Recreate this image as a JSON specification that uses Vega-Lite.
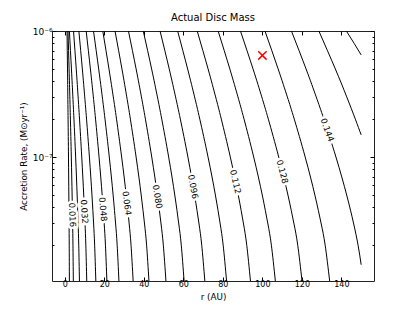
{
  "$schema": "https://vega.github.io/schema/vega-lite/v6.json",
  "width": 322,
  "height": 250,
  "autosize": "none",
  "padding": {"left": 52, "top": 31, "right": 41, "bottom": 32},
  "background": "white",
  "config": {
    "font": "DejaVu Sans",
    "view": {"stroke": "#222", "strokeWidth": 1},
    "axis": {"domain": false, "grid": false, "labelFont": "DejaVu Sans", "titleFont": "DejaVu Sans", "labelColor": "black", "titleColor": "black", "tickColor": "black", "labelFontSize": 8, "titleFontSize": 8.8, "titleFontWeight": "normal"}
  },
  "title": {"text": "Actual Disc Mass", "fontSize": 10, "fontWeight": "normal", "font": "DejaVu Sans", "offset": 4, "color": "black"},
  "datasets": {
    "lines": [
      {"level":0.008,"r":2.30,"mdot":1.04e-8},{"level":0.008,"r":2.22,"mdot":2e-8},{"level":0.008,"r":2.14,"mdot":3e-8},{"level":0.008,"r":2.02,"mdot":5e-8},{"level":0.008,"r":1.85,"mdot":1e-7},{"level":0.008,"r":1.64,"mdot":2e-7},{"level":0.008,"r":1.51,"mdot":3e-7},{"level":0.008,"r":1.35,"mdot":5e-7},{"level":0.008,"r":1.10,"mdot":1e-6},
      {"level":0.016,"r":4.30,"mdot":1.04e-8},{"level":0.016,"r":4.11,"mdot":2e-8},{"level":0.016,"r":3.94,"mdot":3e-8},{"level":0.016,"r":3.68,"mdot":5e-8},{"level":0.016,"r":3.28,"mdot":1e-7},{"level":0.016,"r":2.82,"mdot":2e-7},{"level":0.016,"r":2.53,"mdot":3e-7},{"level":0.016,"r":2.15,"mdot":5e-7},{"level":0.016,"r":1.60,"mdot":1e-6},
      {"level":0.024,"r":7.39,"mdot":1.04e-8},{"level":0.024,"r":7.04,"mdot":2e-8},{"level":0.024,"r":6.71,"mdot":3e-8},{"level":0.024,"r":6.23,"mdot":5e-8},{"level":0.024,"r":5.47,"mdot":1e-7},{"level":0.024,"r":4.61,"mdot":2e-7},{"level":0.024,"r":4.06,"mdot":3e-7},{"level":0.024,"r":3.34,"mdot":5e-7},{"level":0.024,"r":2.30,"mdot":1e-6},
      {"level":0.032,"r":11.09,"mdot":1.04e-8},{"level":0.032,"r":10.63,"mdot":2e-8},{"level":0.032,"r":10.20,"mdot":3e-8},{"level":0.032,"r":9.56,"mdot":5e-8},{"level":0.032,"r":8.56,"mdot":1e-7},{"level":0.032,"r":7.43,"mdot":2e-7},{"level":0.032,"r":6.72,"mdot":3e-7},{"level":0.032,"r":5.77,"mdot":5e-7},{"level":0.032,"r":4.40,"mdot":1e-6},
      {"level":0.040,"r":15.69,"mdot":1.04e-8},{"level":0.040,"r":15.09,"mdot":2e-8},{"level":0.040,"r":14.54,"mdot":3e-8},{"level":0.040,"r":13.73,"mdot":5e-8},{"level":0.040,"r":12.44,"mdot":1e-7},{"level":0.040,"r":10.99,"mdot":2e-7},{"level":0.040,"r":10.07,"mdot":3e-7},{"level":0.040,"r":8.86,"mdot":5e-7},{"level":0.040,"r":7.10,"mdot":1e-6},
      {"level":0.048,"r":21.29,"mdot":1.04e-8},{"level":0.048,"r":20.56,"mdot":2e-8},{"level":0.048,"r":19.89,"mdot":3e-8},{"level":0.048,"r":18.89,"mdot":5e-8},{"level":0.048,"r":17.32,"mdot":1e-7},{"level":0.048,"r":15.55,"mdot":2e-7},{"level":0.048,"r":14.43,"mdot":3e-7},{"level":0.048,"r":12.94,"mdot":5e-7},{"level":0.048,"r":10.80,"mdot":1e-6},
      {"level":0.056,"r":27.38,"mdot":1.04e-8},{"level":0.056,"r":26.49,"mdot":2e-8},{"level":0.056,"r":25.67,"mdot":3e-8},{"level":0.056,"r":24.44,"mdot":5e-8},{"level":0.056,"r":22.51,"mdot":1e-7},{"level":0.056,"r":20.33,"mdot":2e-7},{"level":0.056,"r":18.96,"mdot":3e-7},{"level":0.056,"r":17.13,"mdot":5e-7},{"level":0.056,"r":14.50,"mdot":1e-6},
      {"level":0.064,"r":34.58,"mdot":1.04e-8},{"level":0.064,"r":33.51,"mdot":2e-8},{"level":0.064,"r":32.53,"mdot":3e-8},{"level":0.064,"r":31.07,"mdot":5e-8},{"level":0.064,"r":28.76,"mdot":1e-7},{"level":0.064,"r":26.17,"mdot":2e-7},{"level":0.064,"r":24.53,"mdot":3e-7},{"level":0.064,"r":22.34,"mdot":5e-7},{"level":0.064,"r":19.20,"mdot":1e-6},
      {"level":0.072,"r":42.58,"mdot":1.04e-8},{"level":0.072,"r":41.39,"mdot":2e-8},{"level":0.072,"r":40.29,"mdot":3e-8},{"level":0.072,"r":38.65,"mdot":5e-8},{"level":0.072,"r":36.08,"mdot":1e-7},{"level":0.072,"r":33.18,"mdot":2e-7},{"level":0.072,"r":31.35,"mdot":3e-7},{"level":0.072,"r":28.91,"mdot":5e-7},{"level":0.072,"r":25.40,"mdot":1e-6},
      {"level":0.080,"r":51.18,"mdot":1.04e-8},{"level":0.080,"r":49.86,"mdot":2e-8},{"level":0.080,"r":48.65,"mdot":3e-8},{"level":0.080,"r":46.84,"mdot":5e-8},{"level":0.080,"r":44.00,"mdot":1e-7},{"level":0.080,"r":40.79,"mdot":2e-7},{"level":0.080,"r":38.77,"mdot":3e-7},{"level":0.080,"r":36.08,"mdot":5e-7},{"level":0.080,"r":32.20,"mdot":1e-6},
      {"level":0.088,"r":60.37,"mdot":1.04e-8},{"level":0.088,"r":58.94,"mdot":2e-8},{"level":0.088,"r":57.62,"mdot":3e-8},{"level":0.088,"r":55.65,"mdot":5e-8},{"level":0.088,"r":52.56,"mdot":1e-7},{"level":0.088,"r":49.06,"mdot":2e-7},{"level":0.088,"r":46.86,"mdot":3e-7},{"level":0.088,"r":43.93,"mdot":5e-7},{"level":0.088,"r":39.70,"mdot":1e-6},
      {"level":0.096,"r":70.87,"mdot":1.04e-8},{"level":0.096,"r":69.30,"mdot":2e-8},{"level":0.096,"r":67.85,"mdot":3e-8},{"level":0.096,"r":65.69,"mdot":5e-8},{"level":0.096,"r":62.30,"mdot":1e-7},{"level":0.096,"r":58.47,"mdot":2e-7},{"level":0.096,"r":56.05,"mdot":3e-7},{"level":0.096,"r":52.84,"mdot":5e-7},{"level":0.096,"r":48.20,"mdot":1e-6},
      {"level":0.104,"r":81.87,"mdot":1.04e-8},{"level":0.104,"r":80.15,"mdot":2e-8},{"level":0.104,"r":78.57,"mdot":3e-8},{"level":0.104,"r":76.21,"mdot":5e-8},{"level":0.104,"r":72.50,"mdot":1e-7},{"level":0.104,"r":68.32,"mdot":2e-7},{"level":0.104,"r":65.68,"mdot":3e-7},{"level":0.104,"r":62.16,"mdot":5e-7},{"level":0.104,"r":57.10,"mdot":1e-6},
      {"level":0.112,"r":93.96,"mdot":1.04e-8},{"level":0.112,"r":92.09,"mdot":2e-8},{"level":0.112,"r":90.37,"mdot":3e-8},{"level":0.112,"r":87.80,"mdot":5e-8},{"level":0.112,"r":83.77,"mdot":1e-7},{"level":0.112,"r":79.21,"mdot":2e-7},{"level":0.112,"r":76.34,"mdot":3e-7},{"level":0.112,"r":72.51,"mdot":5e-7},{"level":0.112,"r":67.00,"mdot":1e-6},
      {"level":0.120,"r":106.56,"mdot":1.04e-8},{"level":0.120,"r":104.55,"mdot":2e-8},{"level":0.120,"r":102.70,"mdot":3e-8},{"level":0.120,"r":99.94,"mdot":5e-8},{"level":0.120,"r":95.61,"mdot":1e-7},{"level":0.120,"r":90.72,"mdot":2e-7},{"level":0.120,"r":87.63,"mdot":3e-7},{"level":0.120,"r":83.52,"mdot":5e-7},{"level":0.120,"r":77.60,"mdot":1e-6},
      {"level":0.128,"r":120.06,"mdot":1.04e-8},{"level":0.128,"r":117.90,"mdot":2e-8},{"level":0.128,"r":115.91,"mdot":3e-8},{"level":0.128,"r":112.94,"mdot":5e-8},{"level":0.128,"r":108.28,"mdot":1e-7},{"level":0.128,"r":103.01,"mdot":2e-7},{"level":0.128,"r":99.69,"mdot":3e-7},{"level":0.128,"r":95.27,"mdot":5e-7},{"level":0.128,"r":88.90,"mdot":1e-6},
      {"level":0.136,"r":134.06,"mdot":1.04e-8},{"level":0.136,"r":131.78,"mdot":2e-8},{"level":0.136,"r":129.69,"mdot":3e-8},{"level":0.136,"r":126.57,"mdot":5e-8},{"level":0.136,"r":121.67,"mdot":1e-7},{"level":0.136,"r":116.14,"mdot":2e-7},{"level":0.136,"r":112.64,"mdot":3e-7},{"level":0.136,"r":107.97,"mdot":5e-7},{"level":0.136,"r":101.30,"mdot":1e-6},
      {"level":0.144,"r":150.0,"mdot":1.4e-8},{"level":0.144,"r":148.44,"mdot":2e-8},{"level":0.144,"r":146.12,"mdot":3e-8},{"level":0.144,"r":142.67,"mdot":5e-8},{"level":0.144,"r":137.25,"mdot":1e-7},{"level":0.144,"r":131.12,"mdot":2e-7},{"level":0.144,"r":127.25,"mdot":3e-7},{"level":0.144,"r":122.11,"mdot":5e-7},{"level":0.144,"r":114.70,"mdot":1e-6},
      {"level":0.152,"r":150.0,"mdot":1.5e-7},{"level":0.152,"r":147.05,"mdot":2e-7},{"level":0.152,"r":142.71,"mdot":3e-7},{"level":0.152,"r":136.93,"mdot":5e-7},{"level":0.152,"r":128.60,"mdot":1e-6},
      {"level":0.160,"r":150.0,"mdot":6.46e-7},{"level":0.160,"r":146.4,"mdot":8e-7},{"level":0.160,"r":142.5,"mdot":1e-6}
    ],
    "labels": [
      {"level":0.016,"r":3.87,"mdot":3.48e-8},
      {"level":0.032,"r":9.95,"mdot":3.69e-8},
      {"level":0.048,"r":19.4,"mdot":3.85e-8},
      {"level":0.064,"r":31.5,"mdot":4.31e-8},
      {"level":0.080,"r":46.95,"mdot":4.85e-8},
      {"level":0.096,"r":64.99,"mdot":5.82e-8},
      {"level":0.112,"r":86.45,"mdot":6.38e-8},
      {"level":0.128,"r":110.15,"mdot":7.66e-8},
      {"level":0.144,"r":132.93,"mdot":1.64e-7}
    ],
    "marker": [{"r":100,"mdot":6.4e-7}]
  },
  "encoding": {
    "x": {"field": "r", "type": "quantitative", "scale": {"domain": [-6.5, 156.5], "nice": false, "zero": false}},
    "y": {"field": "mdot", "type": "quantitative", "scale": {"type": "log", "domain": [1.04e-8, 1e-6], "nice": false}}
  },
  "layer": [
    {
      "data": {"name": "lines"},
      "mark": {"type": "line", "color": "black", "strokeWidth": 1, "interpolate": "natural", "clip": true},
      "encoding": {
        "x": {"field": "r", "type": "quantitative", "title": "r (AU)",
              "axis": {"orient": "bottom", "values": [0,20,40,60,80,100,120,140], "tickSize": -4, "labelPadding": 3, "titlePadding": 4}},
        "y": {"field": "mdot", "type": "quantitative", "title": "Accretion Rate, (M⊙yr⁻¹)",
              "axis": {"orient": "left", "values": [2e-8,3e-8,4e-8,5e-8,6e-8,7e-8,8e-8,9e-8,1e-7,2e-7,3e-7,4e-7,5e-7,6e-7,7e-7,8e-7,9e-7,1e-6],
                       "tickSize": {"condition": {"test": "datum.value === 1e-7 || datum.value === 1e-6", "value": -4}, "value": -2},
                       "labelExpr": "datum.value === 1e-6 ? '10⁻⁶' : (datum.value === 1e-7 ? '10⁻⁷' : '')",
                       "labelPadding": 4, "titlePadding": 4, "labelFontSize": 9}},
        "detail": {"field": "level", "type": "nominal"},
        "order": {"field": "mdot", "type": "quantitative"}
      }
    },
    {
      "data": {"name": "labels"},
      "mark": {"type": "text", "fontSize": 8.5, "font": "DejaVu Sans", "stroke": "white", "strokeWidth": 5, "fill": "white", "align": "center", "baseline": "middle"},
      "encoding": {
        "x": {"field": "r", "type": "quantitative", "axis": null},
        "y": {"field": "mdot", "type": "quantitative", "axis": null},
        "text": {"field": "level", "type": "quantitative", "format": ".3f"},
        "angle": {"field": "level", "type": "quantitative", "scale": {"domain": [0.016, 0.064, 0.128, 0.144], "range": [88, 83, 75, 70]}, "legend": null}
      }
    },
    {
      "data": {"name": "labels"},
      "mark": {"type": "text", "fontSize": 8.5, "font": "DejaVu Sans", "color": "black", "align": "center", "baseline": "middle"},
      "encoding": {
        "x": {"field": "r", "type": "quantitative", "axis": null},
        "y": {"field": "mdot", "type": "quantitative", "axis": null},
        "text": {"field": "level", "type": "quantitative", "format": ".3f"},
        "angle": {"field": "level", "type": "quantitative", "scale": {"domain": [0.016, 0.064, 0.128, 0.144], "range": [88, 83, 75, 70]}, "legend": null}
      }
    },
    {
      "data": {"name": "marker"},
      "mark": {"type": "point", "shape": "M-1,-1L1,1M1,-1L-1,1", "size": 70, "color": "#ff0000", "stroke": "#ff0000", "strokeWidth": 1.5, "filled": false, "opacity": 1, "strokeOpacity": 1},
      "encoding": {
        "x": {"field": "r", "type": "quantitative", "title": null,
              "axis": {"orient": "top", "values": [0,20,40,60,80,100,120,140], "tickSize": -4, "labels": false}},
        "y": {"field": "mdot", "type": "quantitative", "title": null,
              "axis": {"orient": "right", "values": [2e-8,3e-8,4e-8,5e-8,6e-8,7e-8,8e-8,9e-8,1e-7,2e-7,3e-7,4e-7,5e-7,6e-7,7e-7,8e-7,9e-7,1e-6],
                       "tickSize": {"condition": {"test": "datum.value === 1e-7 || datum.value === 1e-6", "value": -4}, "value": -2},
                       "labels": false}}
      }
    }
  ],
  "resolve": {"axis": {"x": "independent", "y": "independent"}}
}
